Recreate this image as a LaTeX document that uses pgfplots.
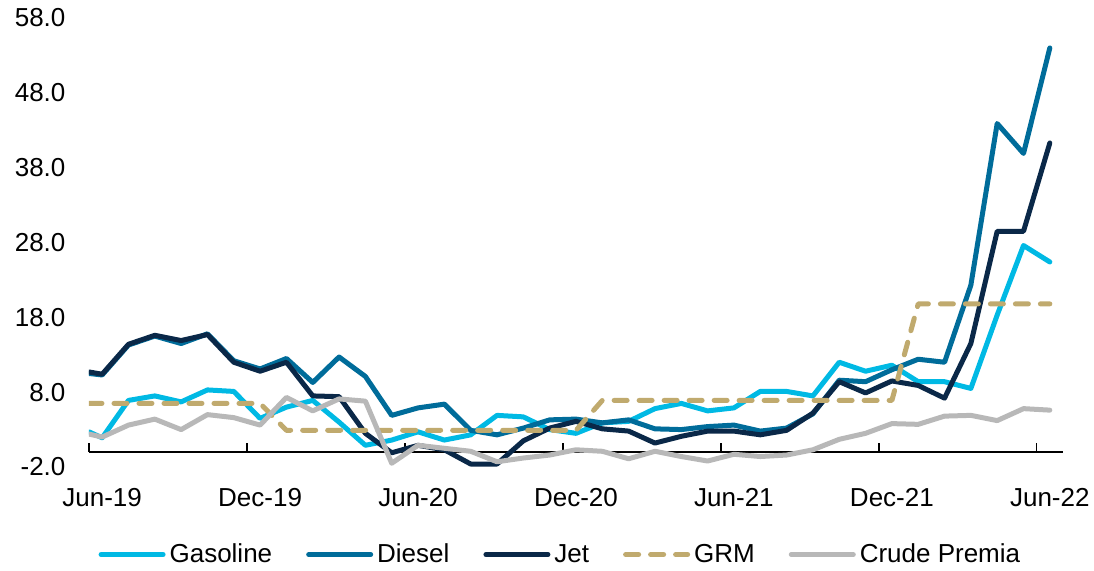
\documentclass[border=0pt]{standalone}
\usepackage{pgfplots}
\pgfplotsset{compat=1.18}
\usepackage{pgfplotstable}
\usepackage{fontspec}
\setmainfont{Liberation Sans}

\definecolor{gasoline}{RGB}{0,185,228}
\definecolor{diesel}{RGB}{0,108,154}
\definecolor{jet}{RGB}{10,40,72}
\definecolor{grm}{RGB}{192,170,110}
\definecolor{crude}{RGB}{184,184,184}

% monthly margins, x in months from Jun-19 (points mid-month)
\pgfplotstableread{
x     gas   diesel  jet   grm   crude
0     2.7   10.5    10.7  6.5   2.4
0.5   1.9   10.3    10.4  6.5   2.0
1.5   6.9   14.3    14.4  6.5   3.6
2.5   7.5   15.5    15.6  6.5   4.4
3.5   6.7   14.5    14.9  6.5   3.0
4.5   8.3   15.8    15.7  6.5   5.0
5.5   8.1   12.2    12.0  6.5   4.6
6.5   4.5   11.1    10.8  6.5   3.6
7.5   6.0   12.5    12.0  2.9   7.3
8.5   6.9   9.3     7.5   2.9   5.5
9.5   4.0   12.7    7.4   2.9   7.1
10.5  0.9   10.1    2.5   2.9   6.8
11.5  1.6   4.9     -0.1  2.9   -1.5
12.5  2.7   5.9     0.9   2.9   0.9
13.5  1.6   6.4     0.3   2.9   0.5
14.5  2.3   2.9     -1.6  2.9   0.1
15.5  4.9   2.3     -1.6  2.9   -1.3
16.5  4.7   3.2     1.5   2.9   -0.8
17.5  3.0   4.3     3.2   2.9   -0.4
18.5  2.5   4.4     4.1   2.9   0.3
19.5  3.9   3.9     3.1   6.9   0.1
20.5  4.1   4.3     2.8   6.9   -0.9
21.5  5.8   3.1     1.2   6.9   0.1
22.5  6.5   3.0     2.1   6.9   -0.6
23.5  5.5   3.4     2.8   6.9   -1.2
24.5  5.9   3.6     2.8   6.9   -0.3
25.5  8.1   2.8     2.3   6.9   -0.6
26.5  8.1   3.2     2.9   6.9   -0.4
27.5  7.5   5.1     5.2   6.9   0.3
28.5  12.0  9.6     9.4   6.9   1.7
29.5  10.8  9.4     7.9   6.9   2.5
30.5  11.6  11.0    9.5   6.9   3.8
31.5  9.4   12.4    8.9   19.8  3.7
32.5  9.4   12.0    7.2   19.8  4.8
33.5  8.5   22.3    14.5  19.8  4.9
34.5  18.3  43.9    29.5  19.8  4.2
35.5  27.6  39.9    29.5  19.8  5.8
36.5  25.4  54.0    41.3  19.8  5.6
}\margins

\begin{document}
\begin{tikzpicture}
\useasboundingbox (-44.5pt,-51.5pt) rectangle (502.5pt,233.5pt);
\begin{axis}[
  width=487pt, height=224.5pt, scale only axis,
  xmin=0, xmax=37, ymin=-2, ymax=58,
  axis x line=middle, axis y line=left,
  x axis line style={-, black, line width=0.8pt},
  y axis line style={draw=none},
  hide obscured x ticks=false,
  /pgf/number format/assume math mode=true,
  every tick label/.append style={font=\fontsize{13}{15}\selectfont},
  ytick={-2,8,...,58},
  y tick style={draw=none},
  yticklabel style={/pgf/number format/.cd, fixed, fixed zerofill, precision=1, /tikz/.cd, xshift=-6pt},
  xtick={0,6,...,36}, xticklabels={},
  xtick align=inside, major tick length=4.5pt,
  x tick style={black, line width=0.8pt},
  extra x ticks={0.5,6.5,12.5,18.5,24.5,30.5,36.5},
  extra x tick labels={Jun-19,Dec-19,Jun-20,Dec-20,Jun-21,Dec-21,Jun-22},
  extra x tick style={major tick length=0pt, tick label style={yshift=-14.5pt}},
  every axis plot/.append style={line width=2.5pt, line cap=round, line join=round},
  legend columns=5,
  legend cell align=left,
  legend style={draw=none, at={(0.485,-0.195)}, anchor=center,
    font=\fontsize{13}{15}\selectfont,
    /tikz/every even column/.append style={column sep=15pt}},
  legend image code/.code={\draw[#1] (0pt,0pt) -- (31pt,0pt);},
]
\addplot[gasoline] table[x=x, y=gas] {\margins};
\addlegendentry{Gasoline}
\addplot[diesel] table[x=x, y=diesel] {\margins};
\addlegendentry{Diesel}
\addplot[jet] table[x=x, y=jet] {\margins};
\addlegendentry{Jet}
\addplot[grm, dash pattern=on 6.5pt off 6pt] table[x=x, y=grm] {\margins};
\addlegendentry{GRM}
\addplot[crude] table[x=x, y=crude] {\margins};
\addlegendentry{Crude Premia}
\end{axis}
\end{tikzpicture}
\end{document}
